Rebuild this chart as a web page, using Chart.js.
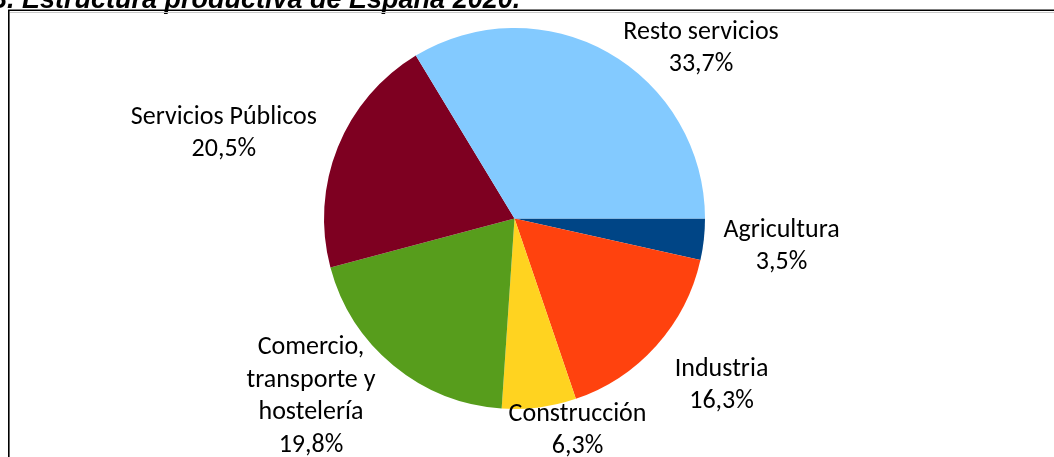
<!DOCTYPE html>
<html>
<head>
<meta charset="utf-8">
<script src="https://cdn.jsdelivr.net/npm/chart.js@4/dist/chart.umd.min.js"></script>
<style>
  body { margin: 0; background: #fff; }
  canvas { display: block; }
</style>
</head>
<body>
<canvas id="chart1" width="1054" height="457"></canvas>
<script>
// data (sectores, % del total)
const sectores = ['Agricultura', 'Industria', 'Construcción', 'Comercio, transporte y hostelería', 'Servicios Públicos', 'Resto servicios']
const porcentajes = [3.5, 16.3, 6.3, 19.8, 20.5, 33.7]
// how each label is broken into lines
const etiquetas = [['Agricultura'], ['Industria'], ['Construcción'], ['Comercio,', 'transporte y', 'hostelería'], ['Servicios Públicos'], ['Resto servicios']]
const colores = ['#004586', '#ff420e', '#ffd320', '#579d1c', '#7e0021', '#83caff']
const titulo = '3. Estructura productiva de España 2020.'

const fmt = v => v.toFixed(1).replace('.', ',') + '%'

// frame + cut-off title
const marco = {
    id: 'marco',
    beforeDraw(chart) {
        const c = chart.ctx
        c.save()
        c.font = 'bold italic 27px "Liberation Sans", Arial, sans-serif'
        c.fillStyle = '#000'
        c.textBaseline = 'alphabetic'
        c.fillText(titulo, -8, 7.5)
        c.strokeStyle = '#c8c8c8'
        c.lineWidth = 1
        c.beginPath()
        c.moveTo(10, 12.5)
        c.lineTo(1054, 12.5)
        c.stroke()
        c.strokeStyle = '#000'
        c.lineWidth = 1.6
        c.beginPath()
        c.moveTo(8.8, 460)
        c.lineTo(8.8, 10.3)
        c.lineTo(1054, 10.3)
        c.stroke()
        c.restore()
    }
}

// data labels outside the pie, LibreOffice style
const rotulos = {
    id: 'rotulos',
    afterDatasetsDraw(chart, args, opts) {
        const c = chart.ctx
        const meta = chart.getDatasetMeta(0)
        const size = opts.size
        const lh = opts.lineHeight
        c.save()
        c.font = size + 'px Carlito, "Open Sans", sans-serif'
        c.fillStyle = '#000'
        c.textAlign = 'center'
        c.textBaseline = 'alphabetic'
        meta.data.forEach((arc, i) => {
            const p = arc.getProps(['x', 'y', 'startAngle', 'endAngle', 'outerRadius'], true)
            const mid = (p.startAngle + p.endAngle) / 2
            const cos = Math.cos(mid), sin = Math.sin(mid)
            const lines = etiquetas[i].concat([fmt(porcentajes[i])])
            const w = Math.max(...lines.map(l => c.measureText(l).width))
            const h = lines.length * lh
            const ax = p.x + cos * (p.outerRadius + opts.gap)
            const ay = p.y + sin * (p.outerRadius + opts.gap)
            const cx = ax + cos * w / 2 + opts.nudge[i][0]
            const cy = ay + sin * h / 2 + opts.nudge[i][1]
            lines.forEach((l, k) => {
                const lc = cy - h / 2 + lh * (k + 0.5)
                c.fillText(l, cx, lc + size * 0.32)
            })
        })
        c.restore()
    }
}

const ctx1 = document.querySelector('#chart1').getContext('2d')
const chart1 = new Chart(ctx1, {
    type: 'pie',
    data: {
        labels: sectores,
        datasets: [{
            data: porcentajes,
            backgroundColor: colores,
            borderWidth: 0,
            hoverOffset: 0
        }]
    },
    options: {
        responsive: false,
        animation: false,
        rotation: 90,
        layout: { padding: { left: 324, right: 349, top: 28, bottom: 48 } },
        plugins: {
            legend: { display: false },
            tooltip: { enabled: false },
            rotulos: {
                size: 26,
                lineHeight: 32.5,
                gap: 18,
                nudge: [[2, 0], [17, 4], [27, -29], [-30, -35], [-11, 3], [46, 38]]
            }
        }
    },
    plugins: [marco, rotulos]
})
</script>
</body>
</html>
